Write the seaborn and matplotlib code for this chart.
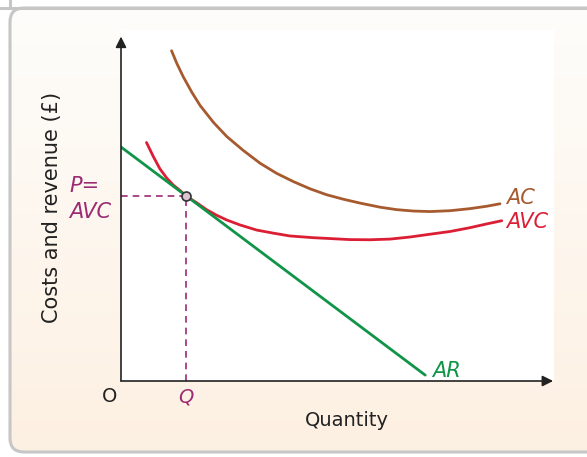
import numpy as np
import pandas as pd
import matplotlib.pyplot as plt
import seaborn as sns
from matplotlib.patches import FancyBboxPatch

# curve readings (quantity, £)
q_ac = [11.7, 12.9, 14.4, 16.4, 18.3, 21.4, 24.5, 28.3, 32.2, 36.0, 39.9, 43.8, 47.6,
        51.5, 55.3, 60.0, 63.8, 67.7, 71.5, 76.2, 80.8, 84.7, 87.7]
ac = [95.4, 91.8, 87.9, 83.4, 79.6, 74.7, 70.6, 66.6, 62.9, 60.0, 57.6, 55.5, 53.8,
      52.5, 51.4, 50.2, 49.5, 49.1, 48.95, 49.2, 49.8, 50.5, 51.2]

q_avc = [5.9, 7.5, 9.0, 10.6, 12.1, 13.7, 15.0, 17.5, 19.8, 22.1, 24.5, 27.5, 31.4, 35.3,
         39.1, 44.5, 50.7, 53.0, 57.6, 62.3, 66.9, 71.5, 76.2, 80.8, 84.7, 88.1]
avc = [68.9, 64.8, 61.3, 58.6, 56.6, 55.0, 53.5, 51.5, 49.5, 47.9, 46.5, 45.1, 43.6, 42.7,
       41.9, 41.4, 41.0, 40.85, 40.8, 41.0, 41.6, 42.4, 43.2, 44.3, 45.4, 46.3]

q_ar = [0, 70.4]
ar = [67.6, 1.7]

q_eq = 15.0
p_eq = 53.5

BROWN = "#a65a2e"
RED = "#dc1e35"
GREEN = "#0f9448"
PURPLE = "#9b2a72"

sns.set_theme(style="white")
plt.rcParams["font.family"] = ["DejaVu Sans"]

W, H = 587, 457
fig = plt.figure(figsize=(W / 100, H / 100), dpi=100)
fig.patch.set_facecolor("white")

# panel background with soft gradient and rounded frame
bg = fig.add_axes([0, 0, 1, 1], zorder=-1)
bg.set_xlim(0, W)
bg.set_ylim(H, 0)
bg.set_axis_off()
grad = np.linspace(0, 1, 256).reshape(-1, 1)
top = np.array([0.995, 0.993, 0.985])
bot = np.array([0.992, 0.941, 0.886])
img = top + (bot - top) * grad[..., None]
frame = FancyBboxPatch((10, 8), 620, 444, boxstyle="round,pad=0,rounding_size=14",
                       facecolor="none", edgecolor="#c6c6c6", lw=2.2, transform=bg.transData)
im = bg.imshow(img, extent=[0, W, H, 0], aspect="auto")
im.set_clip_path(frame)
bg.add_patch(frame)
bg.plot([0, W], [8, 8], color="#c6c6c6", lw=2.2)
bg.plot([10, 10], [0, 8], color="#c6c6c6", lw=2.2)

ax = fig.add_axes([121 / W, 1 - 381 / H, (554 - 121) / W, (381 - 30) / H])
ax.set_facecolor("white")
ax.set_xlim(0, 100.2)
ax.set_ylim(0, 101.4)
sns.despine(ax=ax, left=True, bottom=True)
ax.set_xticks([])
ax.set_yticks([])

line = dict(lw=2.0, estimator=None, sort=False, solid_capstyle="round", solid_joinstyle="round")
sns.lineplot(x=q_ac, y=ac, ax=ax, color=BROWN, **line)
sns.lineplot(x=q_avc, y=avc, ax=ax, color=RED, **line)
sns.lineplot(x=q_ar, y=ar, ax=ax, color=GREEN, **line)
ax.set_xlabel("")
ax.set_ylabel("")

dash = dict(color=PURPLE, lw=1.2, dashes=(4, 3))
ax.plot([0, q_eq], [p_eq, p_eq], **dash)
ax.plot([q_eq, q_eq], [0, p_eq], **dash)
ax.scatter([q_eq], [p_eq], s=42, facecolor="#dcc4d2", edgecolor="#333333", lw=1.2, zorder=6)

arrow = dict(arrowstyle="-|>", color="#222222", lw=1.2, mutation_scale=16, shrinkA=0, shrinkB=0)
ax.annotate("", xy=(100, 0), xytext=(0, 0), arrowprops=arrow, annotation_clip=False)
ax.annotate("", xy=(0, 99.5), xytext=(0, 0), arrowprops=arrow, annotation_clip=False)

it = dict(style="italic", fontsize=15, va="center", ha="left")
ax.text(89.2, 52.8, "AC", color=BROWN, **it)
ax.text(89.2, 46.0, "AVC", color=RED, **it)
ax.text(72.0, 3.0, "AR", color=GREEN, **it)
ax.text(-11.9, 56.3, "P=", color=PURPLE, clip_on=False, **it)
ax.text(-11.9, 48.9, "AVC", color=PURPLE, clip_on=False, **it)
ax.text(q_eq, -4.6, "Q", color=PURPLE, style="italic", fontsize=14, ha="center", va="center")
ax.text(-2.6, -4.6, "O", color="#222222", fontsize=14, ha="center", va="center")

fig.text(347 / W, 1 - 420 / H, "Quantity", fontsize=14, color="#222222", ha="center", va="center")
fig.text(52 / W, 1 - 207 / H, "Costs and revenue (£)", fontsize=15, color="#222222",
         rotation=90, ha="center", va="center")

fig.savefig("out.png", dpi=100)
